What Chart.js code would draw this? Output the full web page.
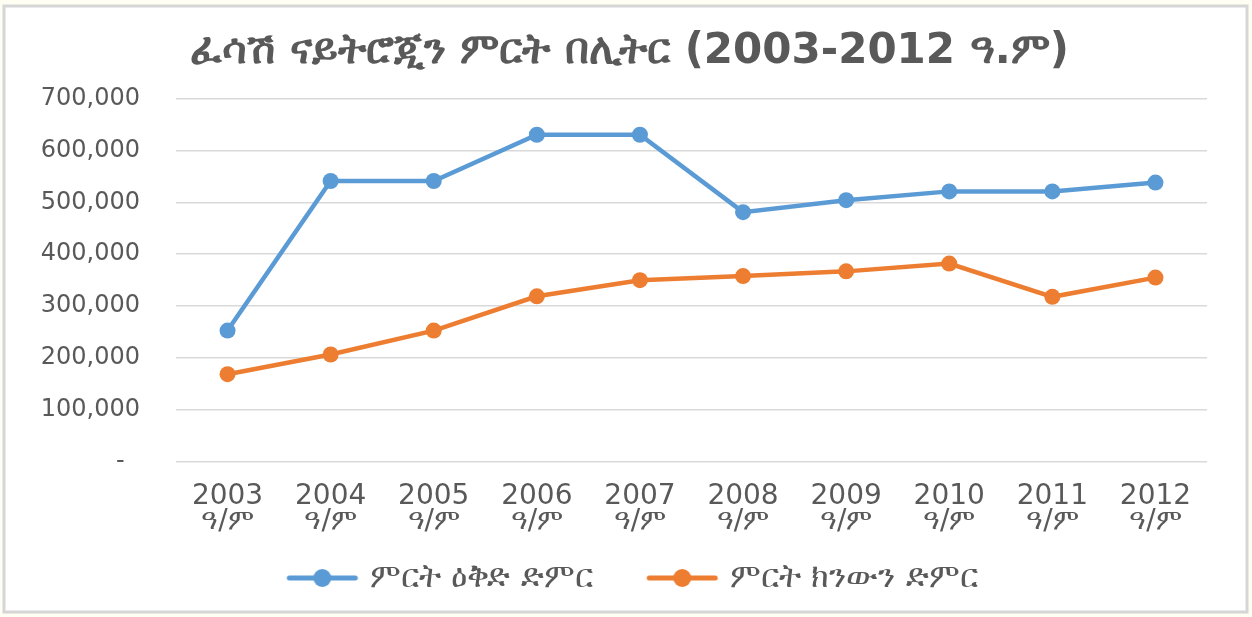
<!DOCTYPE html>
<html>
<head>
<meta charset="utf-8">
<script src="https://cdn.jsdelivr.net/npm/chart.js@4/dist/chart.umd.min.js"></script>
<style>
  html, body { margin: 0; padding: 0; background: #fffef3; }
  #wrap { width: 1252px; height: 617px; }
</style>
</head>
<body>
<div id="wrap"><canvas id="line-chart" width="1252" height="617"></canvas></div>
<script>
const years = ["2003","2004","2005","2006","2007","2008","2009","2010","2011","2012"];
const yearSuffix = "ዓ/ም";
const planTotal = [253000,541000,541000,630000,630000,481000,504000,521000,521000,538000];
const actualTotal = [169000,207000,253000,319000,350000,358000,367000,382000,318000,355000];
const seriesNames = ["ምርት ዕቅድ ድምር","ምርት ክንውን ድምር"];
const titleText = "ፈሳሽ ናይትሮጂን ምርት በሊትር (2003-2012 ዓ.ም)";

const blue = "#5b9bd5";
const orange = "#ed7d31";
const textGrey = "#595959";
const fontFam = "'DejaVu Sans', 'Noto Sans', sans-serif";

// legend marker: line with a dot, drawn in the right part of a wider image
function legendMarker(color){
  const c = document.createElement("canvas");
  c.width = 108; c.height = 20;
  const g = c.getContext("2d");
  g.strokeStyle = color; g.lineWidth = 5; g.lineCap = "round";
  g.beginPath(); g.moveTo(38,10); g.lineTo(104,10); g.stroke();
  g.fillStyle = color;
  g.beginPath(); g.arc(71,10,9,0,Math.PI*2); g.fill();
  return c;
}
const markers = [legendMarker(blue), legendMarker(orange)];

const framePlugin = {
  id: "frame",
  beforeDraw(chart){
    const ctx = chart.ctx;
    ctx.save();
    ctx.fillStyle = "#fffef3";
    ctx.fillRect(0,0,chart.width,chart.height);
    ctx.fillStyle = "#ffffff";
    ctx.fillRect(4,6,1243,606);
    ctx.strokeStyle = "#d6d6d6";
    ctx.lineWidth = 3;
    ctx.strokeRect(4,6,1243,606);
    ctx.restore();
  }
};

// nudge title and legend so they sit where they do in the picture
const shiftPlugin = {
  id: "shift",
  afterLayout(chart){
    chart.titleBlock.left += 26; chart.titleBlock.right += 26;
    chart.legend.left += 14; chart.legend.right += 14;
  }
};

const ctxLine = document.querySelector("#line-chart").getContext("2d");

const lineChart = new Chart(ctxLine, {
  type: "line",
  data: {
    labels: years.map(y => [y, yearSuffix]),
    datasets: [
      {
        label: seriesNames[0],
        data: planTotal,
        borderColor: blue,
        backgroundColor: blue,
        borderWidth: 4.5,
        pointRadius: 8,
        pointHoverRadius: 8,
        pointBorderWidth: 0,
        tension: 0
      },
      {
        label: seriesNames[1],
        data: actualTotal,
        borderColor: orange,
        backgroundColor: orange,
        borderWidth: 4.5,
        pointRadius: 8,
        pointHoverRadius: 8,
        pointBorderWidth: 0,
        tension: 0
      }
    ]
  },
  options: {
    responsive: false,
    animation: false,
    layout: { padding: { left: 0, right: 45, top: 0, bottom: 12.5 } },
    plugins: {
      title: {
        display: true,
        text: titleText,
        color: textGrey,
        font: { family: fontFam, size: 42, weight: "bold", lineHeight: 1.2 },
        padding: { top: 27, bottom: 21 }
      },
      legend: {
        position: "bottom",
        labels: {
          color: textGrey,
          font: { family: fontFam, size: 33 },
          usePointStyle: true,
          pointStyleWidth: 96,
          padding: 24.5,
          generateLabels(chart){
            return chart.data.datasets.map((ds, i) => ({
              text: ds.label,
              fontColor: textGrey,
              pointStyle: markers[i],
              datasetIndex: i,
              lineWidth: 0,
              hidden: false
            }));
          }
        }
      },
      tooltip: { enabled: false }
    },
    scales: {
      x: {
        offset: true,
        grid: { display: false },
        border: { display: false },
        ticks: {
          color: textGrey,
          font: { family: fontFam, size: 28, lineHeight: 0.9 },
          padding: 14,
          maxRotation: 0,
          autoSkip: false
        },
        afterFit(scale){ scale.height = 75; }
      },
      y: {
        min: 0,
        max: 700000,
        grid: { color: "#d9d9d9", lineWidth: 1.5, drawTicks: false },
        border: { display: false },
        ticks: {
          stepSize: 100000,
          color: textGrey,
          font: { family: fontFam, size: 24 },
          padding: 36,
          callback: v => v === 0 ? "-  " : v.toLocaleString("en-US")
        },
        afterFit(scale){ scale.width = 176; }
      }
    }
  },
  plugins: [framePlugin, shiftPlugin]
});
</script>
</body>
</html>
